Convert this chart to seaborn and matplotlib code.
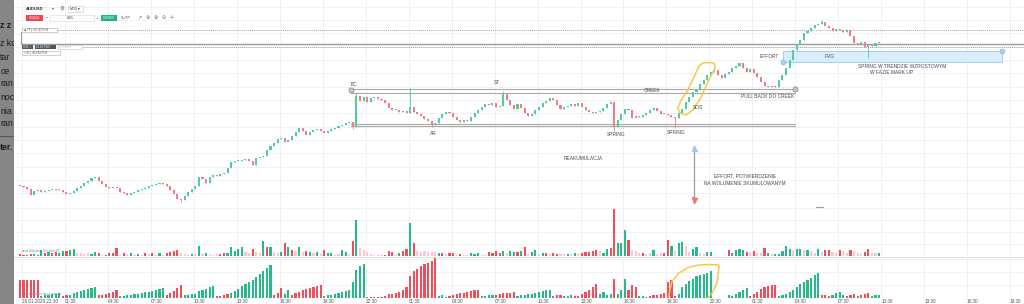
import numpy as np
import pandas as pd
import matplotlib
matplotlib.use("Agg")
import matplotlib.pyplot as plt
import seaborn as sns
from matplotlib.patches import Rectangle

# ---------------- data : AUDUSD M15 ----------------
# price = BASE + points * PT
BASE, PT = 0.69000, 0.00002
first_open = 35
close_pts = [
    34, 33, 31, 25, 29, 30, 28, 29, 30, 30,
    31, 30, 28, 26, 27, 29, 32, 34, 37, 39,
    42, 43, 39, 36, 33, 32, 33, 32, 28, 27,
    25, 27, 28, 30, 31, 32, 34, 35, 36, 37,
    36, 34, 30, 26, 21, 20, 24, 28, 31, 34,
    43, 41, 37, 43, 45, 44, 46, 47, 52, 58,
    59, 59, 60, 61, 59, 55, 62, 63, 64, 70,
    74, 77, 81, 82, 78, 80, 84, 88, 92, 89,
    85, 88, 90, 91, 89, 87, 89, 91, 92, 94,
    95, 97, 98, 93, 124, 119, 123, 118, 122, 123,
    121, 120, 117, 112, 110, 110, 108, 109, 107, 113,
    108, 106, 104, 101, 99, 95, 97, 102, 106, 108,
    107, 103, 100, 98, 100, 99, 103, 107, 110, 113,
    116, 115, 117, 113, 114, 126, 120, 115, 111, 116,
    112, 107, 104, 106, 110, 113, 117, 119, 122, 120,
    115, 111, 113, 114, 116, 114, 117, 113, 110, 108,
    107, 108, 109, 112, 116, 118, 93, 100, 106, 111,
    110, 102, 104, 103, 105, 107, 110, 112, 109, 106,
    106, 105, 103, 102, 107, 111, 118, 123, 128, 130,
    136, 140, 145, 148, 150, 145, 142, 146, 148, 152,
    154, 157, 152, 148, 151, 147, 143, 138, 134, 133,
    134, 133, 140, 145, 152, 160, 170, 176, 180, 187,
    189, 192, 195, 196, 198, 194, 192, 189, 191, 190,
    188, 190, 184, 177, 175, 178, 173, 175, 174, 177,
    178,
]
wick_high = {94: 128, 109: 132, 135: 129, 224: 200}
wick_low = {45: 18, 93: 91, 115: 93, 166: 89, 183: 92, 237: 162}

volume = [
    2, 1, 1, 2, 2, 1, 6, 3, 4, 3,
    4, 3, 5, 5, 6, 7, 3, 3, 2, 3,
    2, 4, 3, 1, 1, 3, 3, 8, 1, 3,
    2, 3, 1, 2, 1, 3, 2, 3, 1, 3,
    1, 3, 4, 5, 6, 3, 2, 1, 2, 2,
    10, 2, 3, 2, 1, 2, 2, 3, 3, 9,
    5, 7, 9, 4, 3, 7, 4, 3, 15, 9,
    9, 4, 3, 4, 13, 9, 6, 5, 9, 4,
    5, 4, 3, 4, 2, 6, 3, 3, 1, 2,
    6, 4, 2, 15, 36, 8, 6, 4, 2, 1,
    1, 1, 1, 5, 4, 2, 3, 5, 7, 33,
    13, 5, 4, 5, 4, 4, 4, 3, 3, 2,
    3, 3, 1, 2, 1, 1, 3, 2, 3, 1,
    1, 4, 3, 5, 3, 5, 3, 5, 4, 4,
    5, 9, 2, 4, 6, 2, 3, 3, 2, 3,
    2, 2, 2, 2, 2, 3, 2, 3, 4, 4,
    5, 6, 5, 3, 7, 8, 47, 13, 13, 26,
    16, 6, 5, 3, 3, 2, 3, 6, 2, 3,
    3, 16, 10, 5, 13, 14, 10, 4, 7, 9,
    3, 2, 4, 4, 0, 0, 0, 0, 6, 3,
    6, 7, 6, 4, 4, 5, 3, 3, 8, 3,
    2, 2, 2, 5, 10, 7, 6, 7, 7, 6,
    6, 5, 3, 7, 4, 6, 6, 4, 3, 6,
    5, 3, 6, 5, 3, 2, 4, 7, 3, 3,
    3,
]
volume_kind = "".join("""
rrgrgggrgr rggrggpppp ggrpgrrrpr pgpgprprpg prrrrpppgp
gpgppprrgg gggpprppgr gppgrgrpgp rgpgprggpp ggprgppppp
pprrrpgrrg rppppppgrp rrprppgggp prrrrgpggr grpggpgrpr
rppgpgprrr rrpggrrggg rppprppgpp rrgpggppgg ppggpppprg
gggrprpprg pgggggpggp gppgprrppr pprppprrpp
g""".split())

cum_volume = [
    18, 18, 18, 18, 18, 18, 2, 3, 3, 4,
    4, 5, 2, 3, 3, 5, 6, 7, 8, 9,
    10, 11, 3, 3, 4, 5, 6, 8, 2, 2,
    3, 3, 4, 4, 5, 6, 6, 7, 8, 9,
    10, 3, 5, 7, 10, 13, 3, 3, 4, 4,
    7, 8, 9, 11, 12, 2, 2, 3, 4, 5,
    7, 9, 12, 14, 16, 18, 21, 24, 27, 30,
    33, 3, 5, 10, 4, 8, 3, 5, 6, 8,
    9, 10, 11, 12, 13, 2, 3, 3, 4, 5,
    6, 7, 8, 16, 28, 32, 34, 1, 1, 1,
    1, 1, 2, 4, 4, 5, 6, 8, 11, 22,
    27, 29, 32, 34, 35, 37, 40, 2, 3, 1,
    2, 3, 4, 5, 5, 6, 7, 8, 8, 2,
    2, 3, 3, 3, 4, 5, 5, 5, 6, 2,
    3, 3, 4, 4, 5, 6, 7, 8, 8, 2,
    3, 3, 2, 2, 3, 2, 2, 4, 6, 8,
    11, 14, 4, 6, 3, 4, 19, 4, 8, 19,
    8, 13, 11, 2, 2, 1, 2, 3, 3, 4,
    5, 16, 18, 2, 4, 11, 14, 17, 19, 22,
    23, 24, 25, 27, 0, 0, 0, 0, 3, 2,
    4, 6, 8, 10, 2, 4, 6, 9, 11, 12,
    13, 13, 2, 3, 4, 6, 8, 11, 14, 16,
    18, 20, 23, 25, 3, 3, 2, 3, 5, 6,
    3, 2, 3, 4, 2, 3, 4, 5, 2, 3,
    3,
]
cum_kind = "".join("""
rrrrrrgggg ggrrgggggg ggrrrrrrgg gggggggggg grrrrrgggg
gggggrrrrg gggggggggg grrrggrrrr rrrrrggggg gggggggrrr
rrrrrrrrrr rrrrrrrggg rrrrrrrrrg gggrrrrrrg gggggggggr
rrgggrrrrr rrggggrggg rrrgggrrrr rrrrgggggg gggggggggg
ggggrrrrrr rrgggggggg ggggrrrggg grrrgrrrgg
g""".split())

tick_labels = [
    "26.01.2026 22:30", "01:30", "04:30", "07:30", "10:30", "13:30", "16:30", "19:30",
    "22:30", "01:30", "04:30", "07:30", "10:30", "13:30", "16:30", "19:30",
    "22:30", "01:30", "04:30", "07:30", "10:30", "13:30", "16:30", "19:30",
]

# chart drawings (bar index, price points)
creek_pts = (130.7, 127.3)
support_pts = (95.7, 94.0)
range_bars = (92.5, 216.5)
fvg_bars, fvg_pts = (213.2, 274.3), (158, 169)
tp_pts, entry_pts, sl_pts = 190.5, 176.5, 173.0
labels = [
    ("BC", 93.4, 136), ("ST", 133.3, 137.5), ("CREEK", 176.6, 129),
    ("PULL BACK DO CREEK", 209.0, 123), ("AR", 115.4, 87), ("SPRING", 166.6, 85),
    ("SPRING", 183.3, 88), ("SOS", 189.4, 112.3), ("REAKUMULACJA", 157.3, 62),
    ("EFFORT", 209.3, 164), ("FVG", 226.3, 163),
    ("SPRING W TRENDZIE WZROSTOWYM", 246.4, 154), ("W FAZIE MARK UP", 243.6, 148),
    ("EFFORT, POTWIERDZENIE", 202.5, 44), ("NA WOLUMENIE SKUMULOWANYM", 202.5, 37),
]
loop_price = [(183.8, 112), (184.7, 120), (186.6, 130), (188.3, 143), (189.7, 154),
              (190.8, 157), (192.5, 157.5), (193.9, 157), (194.2, 152), (192.0, 137),
              (190.3, 123), (188.0, 110), (186.0, 105), (184.4, 107), (183.8, 112)]
loop_cum = [(181.2, 1.3), (181.6, 8), (182.1, 16.3), (184.0, 24.7), (186.8, 30.7),
            (189.6, 33), (192.8, 33.5), (195.2, 33), (195.3, 32), (194.7, 14.7),
            (193.3, 4.7), (192.2, 0.3)]
arrow_bar, arrow_pts = 188.3, (74, 17)

n = len(close_pts)
volume_kind = (volume_kind + "p" * n)[:n]
cum_kind = (cum_kind + "g" * n)[:n]

# ---------------- style ----------------
sns.set_theme(style="white")
plt.rcParams["font.family"] = ["Liberation Sans", "DejaVu Sans"]
GREEN, RED, PINK = "#26b98a", "#ef4f5a", "#fdc6cf"
CGREEN, CRED = "#52cda0", "#f37d84"
GRID = "#f0f1f3"
TXT = "#4a4a4a"
YEL = "#f5c94a"

W, H = 1024, 304
fig = plt.figure(figsize=(W / 100, H / 100), dpi=100)
fig.patch.set_facecolor("white")


def px_axes(x0, y0, x1, y1, **kw):
    return fig.add_axes([x0 / W, 1 - y1 / H, (x1 - x0) / W, (y1 - y0) / H], **kw)


X0, DX = 19.9, 3.58
XLIM = ((14 - X0) / DX, (1024 - X0) / DX)


def P(v):
    return BASE + np.asarray(v, dtype=float) * PT


c = np.array(close_pts, float)
o = np.r_[first_open, c[:-1]]
idx = np.arange(n)
hi = np.maximum(o, c)
lo = np.minimum(o, c)
for k, v in wick_high.items():
    hi[k] = max(hi[k], v)
for k, v in wick_low.items():
    lo[k] = min(lo[k], v)
up = c >= o
ccol = np.where(up, CGREEN, CRED)

tick_pos = 0.6 + 12 * np.arange(len(tick_labels))

# ---------------- price panel ----------------
axp = px_axes(14, 0, 1024, 207)
axp.set_xlim(XLIM)
axp.set_ylim(P(13), P(220))
axp.set_yticks(P(np.arange(26.67, 215, 13.333)))
axp.set_xticks(tick_pos)
axp.grid(True, color=GRID, lw=0.7)
axp.tick_params(length=0, labelbottom=False, labelleft=False)
for s in axp.spines.values():
    s.set_visible(False)

axp.vlines(idx, P(lo), P(hi), colors=ccol, lw=0.6, zorder=3)
axp.bar(idx, np.maximum(np.abs(c - o), 0.8) * PT, bottom=P(np.minimum(o, c)),
        width=0.58, color=ccol, linewidth=0, zorder=3)

# TP / entry / SL lines
axp.plot([10.4, XLIM[1]], P([tp_pts, tp_pts]), ls=(0, (1, 1)), color="#a3a3a3", lw=0.7, zorder=2)
axp.plot([0.2, XLIM[1]], P([entry_pts, entry_pts]), color="#9c9c9c", lw=1.0, zorder=2)
axp.plot([0.2, 0.2], P([entry_pts, 188.4]), color="#9c9c9c", lw=0.8, zorder=2)
axp.plot([17.4, XLIM[1]], P([sl_pts, sl_pts]), ls=(0, (1, 1)), color="#a3a3a3", lw=0.7, zorder=2)

# range lines
for lv in creek_pts + support_pts:
    axp.plot(range_bars, P([lv, lv]), color="#a9a9a9", lw=0.8, zorder=2)
axp.plot([range_bars[0], range_bars[1]], P([creek_pts[0] - 0.5, creek_pts[0]]), ls="none",
         marker="o", ms=3.6, mfc="#c9c9c9", mec="#8f8f8f", mew=0.6, zorder=4)

# FVG box
axp.add_patch(Rectangle((fvg_bars[0], P(fvg_pts[0])), fvg_bars[1] - fvg_bars[0],
                        (fvg_pts[1] - fvg_pts[0]) * PT, facecolor="#d9edfc",
                        edgecolor="#9fcff4", lw=0.7, zorder=1))
axp.plot(fvg_bars, P(fvg_pts), ls="none", marker="o", ms=3.4, mfc="#a9d4f6",
         mec="#7db8ea", mew=0.5, zorder=4)

# effort arrow
axp.plot([arrow_bar, arrow_bar], P(arrow_pts), color="#9a9a9a", lw=0.9, zorder=3)
axp.plot([arrow_bar], P([arrow_pts[0] - 1.5]), marker="^", ms=3.6, color="#9dcaf3", zorder=4)
axp.plot([arrow_bar], P([arrow_pts[1] + 3.5]), marker="v", ms=3.6, color="#e37b7b", zorder=4)

# yellow loop
lp = np.array(loop_price)
axp.plot(lp[:, 0], P(lp[:, 1]), color=YEL, lw=1.1, solid_joinstyle="round",
         solid_capstyle="round", zorder=5)

for s, i, lv in labels:
    axp.text(i, P(lv), s, ha="center", va="center", fontsize=3.55, color=TXT, zorder=6)

# ---------------- volume panel ----------------
pal = {"g": GREEN, "r": RED, "p": PINK}
axv = px_axes(14, 207, 1024, 256)
vdf = pd.DataFrame({"bar": idx, "vol": volume, "kind": list(volume_kind)})
sns.barplot(data=vdf, x="bar", y="vol", hue="kind", palette=pal, native_scale=True,
            dodge=False, width=0.6, errorbar=None, saturation=1, legend=False,
            linewidth=0, ax=axv)
axv.set_xlim(XLIM)
axv.set_ylim(0, 49)
axv.set_xticks(tick_pos)
axv.set_yticks([12, 24, 36, 48])
axv.grid(True, color=GRID, lw=0.7)
axv.set_axisbelow(True)
axv.set_xlabel("")
axv.set_ylabel("")
axv.tick_params(length=0, labelbottom=False, labelleft=False)
for s in axv.spines.values():
    s.set_visible(False)

# ---------------- cumulative volume panel ----------------
axc = px_axes(14, 257, 1024, 298)
cdf = pd.DataFrame({"bar": idx, "cum": cum_volume, "kind": list(cum_kind)})
sns.barplot(data=cdf, x="bar", y="cum", hue="kind", palette=pal, native_scale=True,
            dodge=False, width=0.6, errorbar=None, saturation=1, legend=False,
            linewidth=0, ax=axc)
axc.set_xlim(XLIM)
axc.set_ylim(0, 41)
axc.set_yticks([13, 26, 39])
axc.set_xticks(tick_pos)
axc.set_xticklabels(tick_labels)
axc.grid(True, color=GRID, lw=0.7)
axc.set_axisbelow(True)
axc.set_xlabel("")
axc.set_ylabel("")
axc.tick_params(length=0, labelleft=False, labelsize=3.3, labelcolor="#555555", pad=0.8)
for lab in axc.get_xticklabels():
    lab.set_ha("left")
for s in axc.spines.values():
    s.set_visible(False)
axc.spines["top"].set_visible(True)
axc.spines["top"].set_color("#e2e2e2")
axc.spines["top"].set_linewidth(0.8)
lc = np.array(loop_cum)
axc.plot(lc[:, 0], lc[:, 1], color=YEL, lw=1.1, solid_joinstyle="round",
         solid_capstyle="round", zorder=5, clip_on=False)

# ---------------- UI chrome (pixel overlay) ----------------
ov = px_axes(0, 0, 1024, 304)
ov.set_xlim(0, W)
ov.set_ylim(H, 0)
ov.axis("off")
ov.patch.set_alpha(0)


def box(x0, y0, x1, y1, fc, ec="none", lw=0.5):
    ov.add_patch(Rectangle((x0, y0), x1 - x0, y1 - y0, facecolor=fc, edgecolor=ec, lw=lw))


ov.text(26, 8.5, "AUDUSD", fontsize=3.0, weight="bold", color="#222", va="center")
ov.text(44, 8.5, "\u00b7\u00b7\u00b7", fontsize=3.0, color="#888", va="center")
ov.text(52, 8.5, "\u25be", fontsize=3.0, color="#555", va="center")
ov.text(60, 8.5, "\u2699", fontsize=4.0, color="#555", va="center")
box(68, 5.5, 83, 11.5, "white", "#cfcfcf")
ov.text(70, 8.5, "M15 \u25be", fontsize=2.6, color="#333", va="center")
box(26, 15, 43, 20.5, "#f0444e")
ov.text(34.5, 17.8, "0.70441", fontsize=2.3, color="white", va="center", ha="center")
ov.text(46, 17.8, "\u2212", fontsize=3.0, color="#666", va="center")
box(50, 15, 94, 20.5, "white", "#dcdcdc")
ov.text(67, 17.8, "0.01", fontsize=2.6, color="#333", va="center")
ov.text(96, 17.8, "+", fontsize=3.2, color="#666", va="center")
box(101, 15, 117, 20.5, "#1fb57f")
ov.text(109, 17.8, "0.70455", fontsize=2.3, color="white", va="center", ha="center")
ov.text(121, 17.8, "SL/TP", fontsize=2.6, color="#444", va="center")
for xx, g in [(137, "\u2197"), (145, "\u2295"), (153, "\u2295"), (161, "\u2296"), (170, "\u271b")]:
    ov.text(xx, 17.8, g, fontsize=3.6, color="#777", va="center")

box(22, 27.5, 57, 31.5, "white", "#bdbdbd")
ov.text(23.5, 29.6, "\u25c6 TP | 337.45 PLN", fontsize=2.1, color="#555", va="center")
box(22, 45, 33, 49, "#4b5763")
ov.text(23, 47.1, "0.01 \u00d7", fontsize=2.1, color="white", va="center")
box(35, 45, 56, 49, "#4b5763")
ov.text(36, 47.1, "61.60 PLN", fontsize=2.1, color="white", va="center")
box(58, 45, 82, 49, "white", "#cfcfcf")
ov.text(59, 47.1, "\u00d7 \u00d7\u00d7\u00d7\u00d7\u00d7\u00d7", fontsize=2.1, color="#999", va="center")
box(22, 51, 60, 55, "white", "#bdbdbd")
ov.text(23.5, 53.1, "\u00d7 SL | 403.84 PLN", fontsize=2.1, color="#555", va="center")

ov.text(22, 251, "\u229f \u22a1 Wolumen (Volume) 20", fontsize=2.2, color="#888", va="center")
ov.text(22, 294, "\u229f \u22a1 Wolumen skumulowany", fontsize=2.2, color="#888", va="center")
ov.plot([816, 823], [207, 207], color="#9a9a9a", lw=0.8)

# left grey strip of the page behind
strip = px_axes(0, 0, 14, 304)
strip.set_xlim(0, 14)
strip.set_ylim(304, 0)
strip.set_facecolor("#868686")
strip.set_xticks([])
strip.set_yticks([])
for s in strip.spines.values():
    s.set_visible(False)
for txt, yy, bold in [("z z", 26, True), ("z ko", 44, False), ("tar", 57, False),
                      ("ce", 71, False), ("ran", 84, False), ("noc", 98, False),
                      ("nia", 111, False), ("ran", 124, False), ("ter.", 148, True)]:
    strip.text(0.3, yy, txt, fontsize=6.3, color="#1c1c1c", va="center",
               weight="bold" if bold else "normal", clip_on=True)
strip.plot([0, 14], [136, 136], color="#555", lw=0.8)
strip.plot([13.5, 13.5], [0, 304], color="#6c6c6c", lw=0.8)

fig.savefig("out.png", dpi=100, facecolor="white")
